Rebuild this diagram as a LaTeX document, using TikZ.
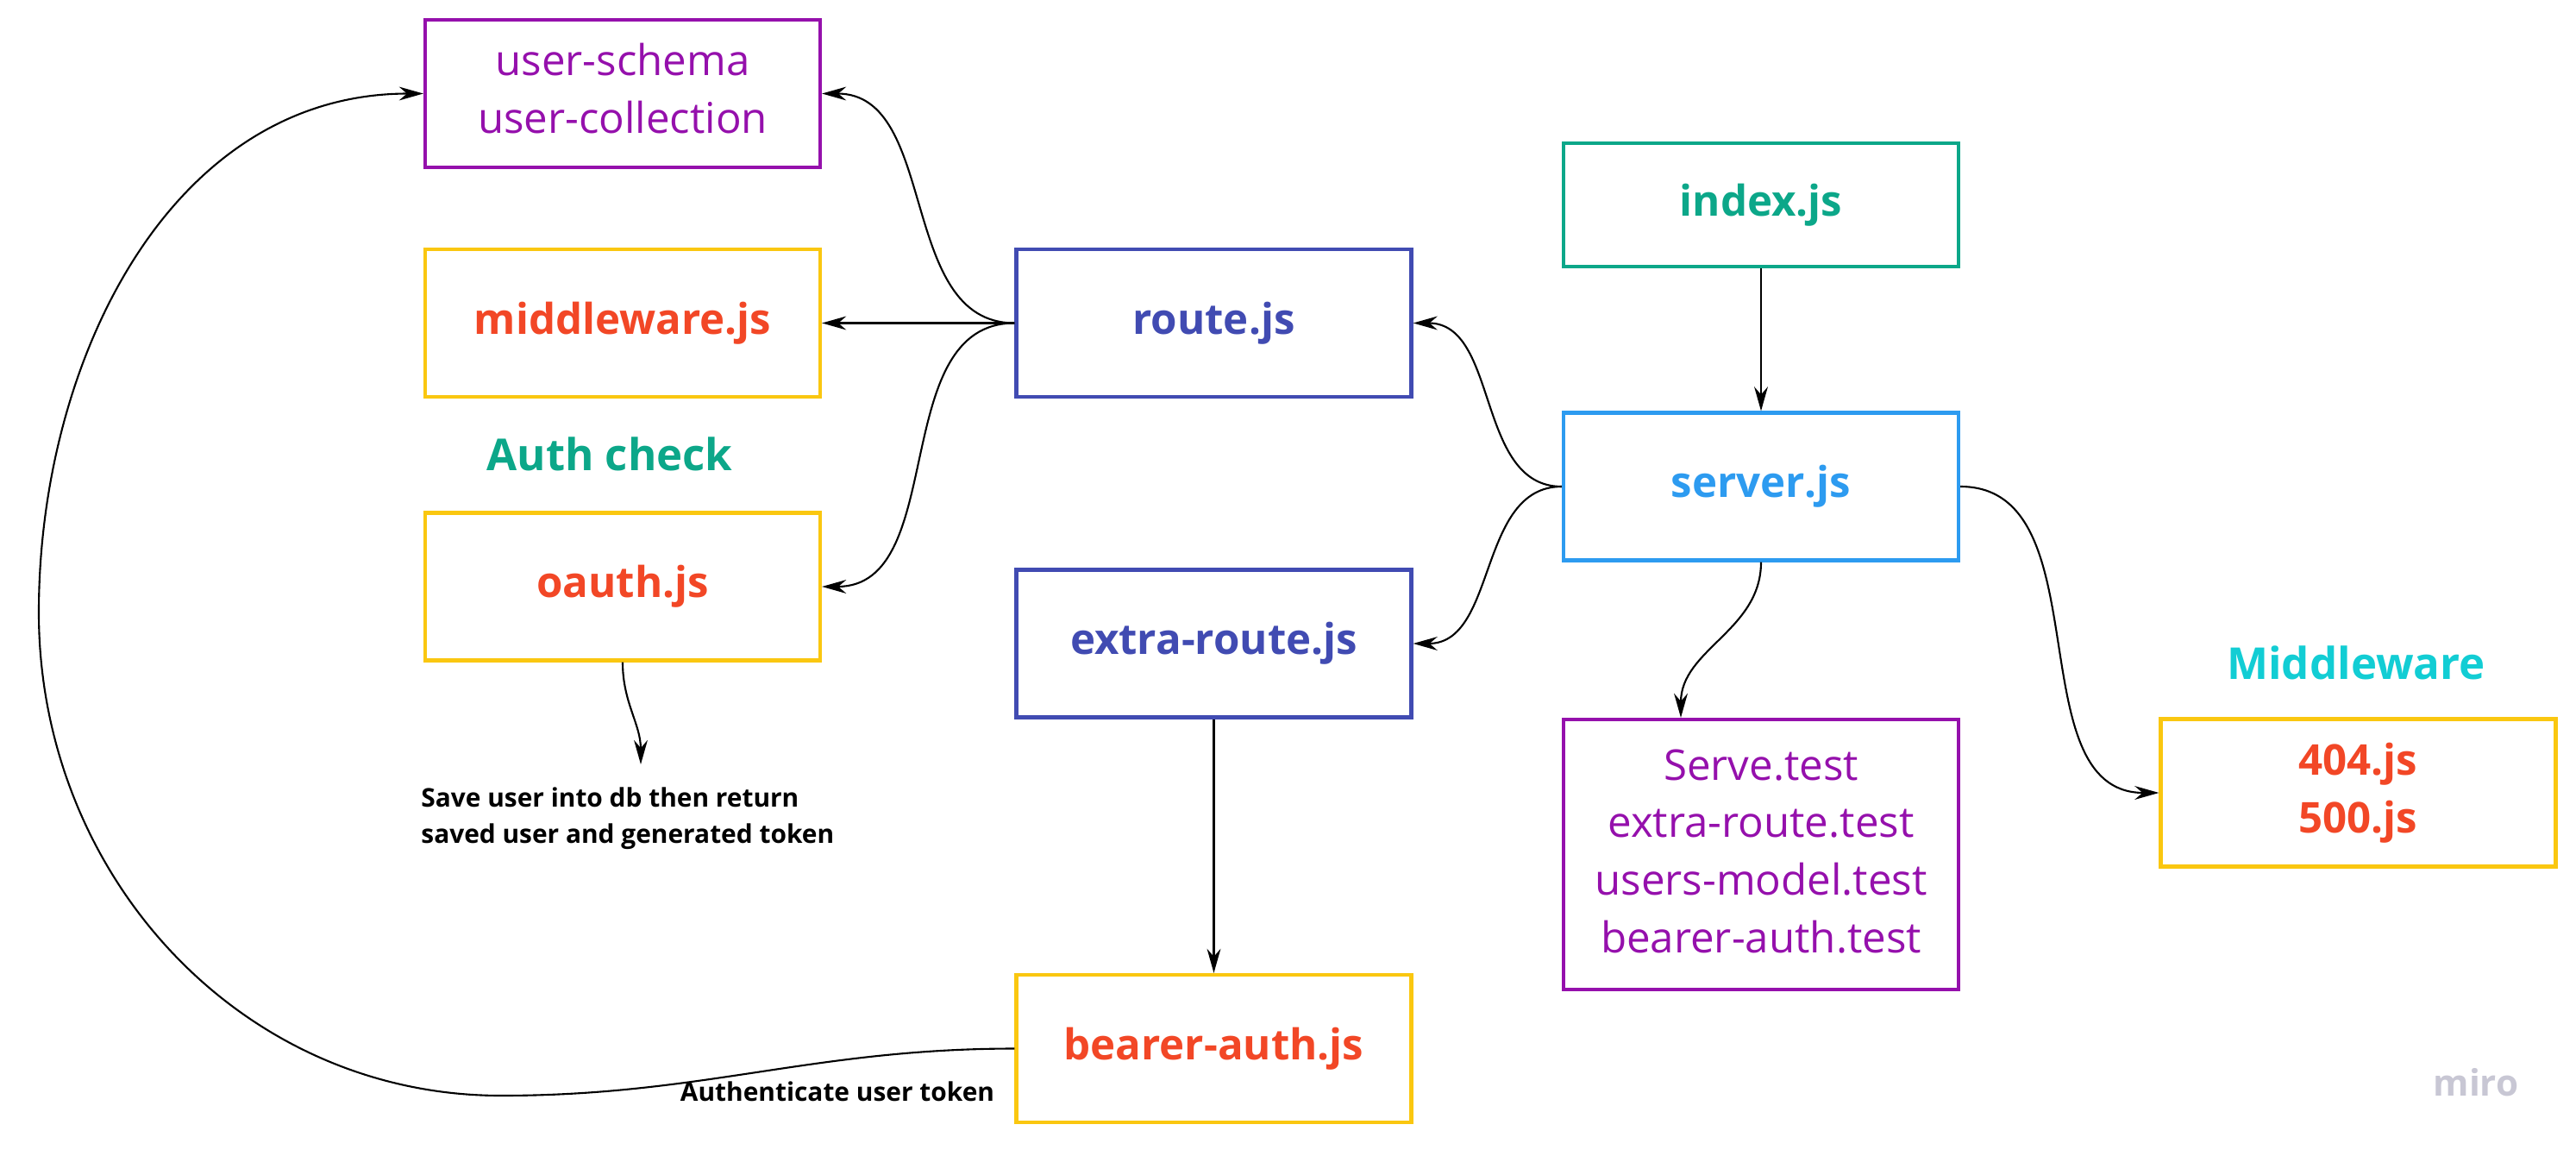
\documentclass[tikz,border=0pt]{standalone}
\usepackage{fontspec}
\setmainfont{Open Sans}
\usetikzlibrary{arrows.meta}
\definecolor{mpurple}{HTML}{9510AC}
\definecolor{mred}{HTML}{F24726}
\definecolor{myellow}{HTML}{FAC710}
\definecolor{mgreen}{HTML}{0CA789}
\definecolor{mblue}{HTML}{414BB2}
\definecolor{msky}{HTML}{2D9BF0}
\definecolor{mcyan}{HTML}{12CDD4}
\definecolor{mgray}{HTML}{C8C7D4}
\tikzset{
  box/.style={draw,line width=1.2pt,minimum width=4.58cm,minimum height=1.71cm,inner sep=2pt,align=center,font=\fontsize{14}{19}\selectfont},
  bbox/.style={box,font=\bfseries\fontsize{14}{19}\selectfont},
  link/.style={-{Stealth[length=8pt,width=4.5pt]},line width=0.6pt},
  note/.style={font=\bfseries\fontsize{8.5}{12}\selectfont,align=left},
  heading/.style={font=\bfseries\fontsize{14.5}{18}\selectfont}
}
\begin{document}
\begin{tikzpicture}
\useasboundingbox (0,0) rectangle (29.87,-13.39);
\node[box,draw=mpurple,text=mpurple,text depth=0.13cm] (userschema) at (7.22,-1.085) {user-schema\\ user-collection};
\node[bbox,draw=myellow,text=mred] (middleware) at (7.22,-3.745) {middleware.js};
\node[heading,text=mgreen] (authcheck) at (7.07,-5.26) {Auth check};
\node[bbox,draw=myellow,text=mred] (oauth) at (7.22,-6.80) {oauth.js};
\node[bbox,draw=mblue,text=mblue] (route) at (14.075,-3.745) {route.js};
\node[bbox,draw=mblue,text=mblue] (extraroute) at (14.075,-7.46) {extra-route.js};
\node[bbox,draw=myellow,text=mred] (bearer) at (14.075,-12.155) {bearer-auth.js};
\node[bbox,draw=mgreen,text=mgreen,minimum height=1.43cm] (index) at (20.42,-2.375) {index.js};
\node[bbox,draw=msky,text=msky] (server) at (20.42,-5.64) {server.js};
\node[box,draw=mpurple,text=mpurple,minimum height=3.13cm,text depth=0.08cm] (tests) at (20.42,-9.905) {Serve.test\\ extra-route.test\\ users-model.test\\ bearer-auth.test};
\node[heading,text=mcyan] (mwlabel) at (27.32,-7.68) {Middleware};
\node[bbox,draw=myellow,text=mred] (errors) at (27.345,-9.19) {404.js\\ 500.js};
\node[note,anchor=west] (savenote) at (4.76,-9.49) {Save user into db then return\\ saved user and generated token};
\node[note] (authnote) at (9.71,-12.65) {Authenticate user token};
\node[font=\bfseries\fontsize{12}{14}\selectfont,text=mgray] (miro) at (28.71,-12.55) {miro};
\coordinate (savetip) at (7.43,-8.86);
\coordinate (loopbottom) at (5.81,-12.70);
\coordinate (loopleft) at (0.45,-7.10);

\draw[link] (route.west) to[out=180,in=0] (userschema.east); \draw[link] (route.west) -- (middleware.east); \draw[link] (route.west) to[out=180,in=0] (oauth.east);
\draw[link] (server.west) to[out=180,in=0] (route.east); \draw[link] (server.west) to[out=180,in=0] (extraroute.east); \draw[link] (index.south) -- (server.north);
\draw[link] (server.south) to[out=-90,in=90] ([xshift=-0.93cm]tests.north); \draw[link] (server.east) to[out=0,in=180] (errors.west); \draw[link] (extraroute.south) -- (bearer.north);
\draw[link] (oauth.south) to[out=-90,in=90] (savetip);
\draw[link] (bearer.west) to[out=180,in=0] (loopbottom) to[out=180,in=-90] (loopleft) to[out=90,in=180] (userschema.west);
\end{tikzpicture}
\end{document}
